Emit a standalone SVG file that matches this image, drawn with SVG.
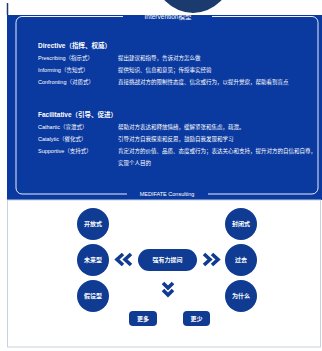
<svg xmlns="http://www.w3.org/2000/svg" width="322" height="351" viewBox="0 0 322 351">
<style>
.t{font-family:"Liberation Sans","Noto Sans CJK SC",sans-serif;fill:#fff}
.h{font-size:6.5px;font-weight:bold}
.r{font-size:5.5px}
.c{font-size:6px;font-weight:bold;text-anchor:middle;dominant-baseline:central}
.node{fill:#0f3b92}
.chev{fill:none;stroke:#0f3b92;stroke-width:3.6;stroke-linejoin:miter}
</style>
<rect width="322" height="351" fill="#fff"/>
<circle cx="193" cy="-25" r="38" fill="#1b3a6e"/>
<line x1="7.5" y1="3" x2="7.5" y2="15" stroke="#1b3a6e" stroke-width="1.5"/>
<rect x="7" y="15" width="315" height="185" fill="#0a39a0"/>
<g id="frame" fill="none" stroke="#e8eefa" stroke-width="1">
<path d="M123 16.5 H22 a6 6 0 0 0 -6 6 V188 a6 6 0 0 0 6 6 H127"/>
<path d="M212 16.5 H312 a6 6 0 0 1 6 6 V188 a6 6 0 0 1 -6 6 H208"/>
</g>
<text class="t" x="168" y="19" font-size="6.5" text-anchor="middle">Intervention模型</text>
<text class="t" x="167" y="196" font-size="5.5" text-anchor="middle">MEDIFATE Consulting</text>
<g id="directive">
<text class="t h" x="38" y="48">Directive（指挥、权威）</text>
<text class="t r" x="38" y="60">Prescribing（指示式）</text>
<text class="t r" x="118" y="60">提出建议和指导，告诉对方怎么做</text>
<text class="t r" x="38" y="72">Informing（告知式）</text>
<text class="t r" x="118" y="72">提供知识、信息和意见；传授事实经验</text>
<text class="t r" x="38" y="84">Confronting（对质式）</text>
<text class="t r" x="118" y="84">直接挑战对方的限制性态度、信念或行为，以提升觉察，帮助看到盲点</text>
</g>
<g id="facilitative">
<text class="t h" x="38" y="117">Facilitative（引导、促进）</text>
<text class="t r" x="38" y="129">Cathartic（宣泄式）</text>
<text class="t r" x="118" y="129">帮助对方表达和释放情绪，缓解紧张和焦虑，疏泄。</text>
<text class="t r" x="38" y="141">Catalytic（催化式）</text>
<text class="t r" x="118" y="141">引导对方自我探索和反思，鼓励自我发现和学习</text>
<text class="t r" x="38" y="153">Supportive（支持式）</text>
<text class="t r" x="118" y="153">肯定对方的价值、品质、态度或行为；表达关心和支持，提升对方的自信和自尊，</text>
<text class="t r" x="118" y="165">实现个人目的</text>
</g>
<rect x="7.5" y="200" width="313" height="147" fill="none" stroke="#c9d2e0" stroke-width="1"/>
<g id="n-open"><circle class="node" cx="93" cy="224" r="16"/><text class="t c" x="93" y="224">开放式</text></g>
<g id="n-future"><circle class="node" cx="93" cy="260" r="16"/><text class="t c" x="93" y="260">未来型</text></g>
<g id="n-hypo"><circle class="node" cx="93" cy="296" r="16"/><text class="t c" x="93" y="296">假设型</text></g>
<g id="n-closed"><circle class="node" cx="241" cy="224" r="16"/><text class="t c" x="241" y="224">封闭式</text></g>
<g id="n-past"><circle class="node" cx="241" cy="260" r="16"/><text class="t c" x="241" y="260">过去</text></g>
<g id="n-why"><circle class="node" cx="241" cy="296" r="16"/><text class="t c" x="241" y="296">为什么</text></g>
<g id="n-center"><rect class="node" x="138" y="249" width="59" height="22" rx="11"/><text class="t c" x="167.5" y="260">强有力提问</text></g>
<g id="n-more"><rect class="node" x="129" y="311" width="28" height="15" rx="4"/><text class="t c" x="143" y="318.5">更多</text></g>
<g id="n-less"><rect class="node" x="183" y="311" width="27" height="15" rx="4"/><text class="t c" x="196.5" y="318.5">更少</text></g>
<g id="connectors">
<path class="chev" d="M123 254 L117 259.5 L123 265 M131 254 L125 259.5 L131 265"/>
<path class="chev" d="M204 254 L210 259.5 L204 265 M212 254 L218 259.5 L212 265"/>
<path class="chev" d="M163 283 L168 288 L173 283 M163 290 L168 295 L173 290"/>
</g>
</svg>
